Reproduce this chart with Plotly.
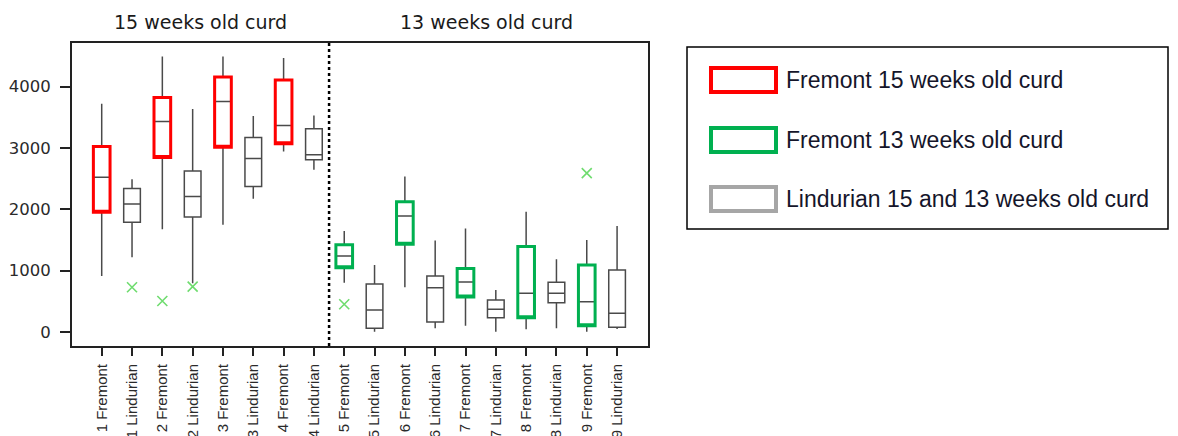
import plotly.graph_objects as go

# ---------------- data ----------------
labels = ["1 Fremont", "1 Lindurian", "2 Fremont", "2 Lindurian", "3 Fremont", "3 Lindurian",
          "4 Fremont", "4 Lindurian", "5 Fremont", "5 Lindurian", "6 Fremont", "6 Lindurian",
          "7 Fremont", "7 Lindurian", "8 Fremont", "8 Lindurian", "9 Fremont", "9 Lindurian"]
group = ["F15", "L", "F15", "L", "F15", "L", "F15", "L",
         "F13", "L", "F13", "L", "F13", "L", "F13", "L", "F13", "L"]
lower = [913, 1218, 1675, 794, 1746, 2170, 2941, 2643,
         804, 5, 729, 60, 103, 5, 43, 60, 5, 49]
q1 = [1952, 1789, 2844, 1876, 3013, 2370, 3067, 2806,
      1049, 60, 1431, 163, 571, 234, 234, 478, 103, 77]
median = [2523, 2088, 3431, 2207, 3757, 2827, 3366, 2887,
          1240, 359, 1892, 723, 816, 370, 631, 631, 495, 305]
q3 = [3023, 2338, 3822, 2626, 4155, 3170, 4105, 3312,
      1424, 783, 2121, 914, 1033, 522, 1392, 811, 1093, 1011]
upper = [3719, 2491, 4491, 3633, 4491, 3519, 4464, 3529,
         1648, 1093, 2534, 1490, 1686, 685, 1958, 1186, 1501, 1729]
outlier_label = ["1 Lindurian", "2 Fremont", "2 Lindurian", "5 Fremont", "9 Fremont"]
outlier_value = [729, 506, 739, 452, 2589]
y_ticks = [0, 1000, 2000, 3000, 4000]
group_titles = ["15 weeks old curd", "13 weeks old curd"]
legend_names = ["Fremont 15 weeks old curd", "Fremont 13 weeks old curd",
                "Lindurian 15 and 13 weeks old curd"]
colors = {"F15": "#ff0000", "F13": "#00b050", "L": "#a6a6a6"}

pos = list(range(len(labels)))
BOXW = 0.55

fig = go.Figure()

# base: thin dark boxes with whiskers + medians for every sample
fig.add_trace(go.Box(
    x=pos, q1=q1, median=median, q3=q3, lowerfence=lower, upperfence=upper,
    width=BOXW, whiskerwidth=0, boxpoints=False,
    line=dict(color="#4a4a4a", width=1.5), fillcolor="rgba(0,0,0,0)",
    showlegend=False, hoverinfo="skip"))

# coloured thick box outlines for Fremont samples
for g in ["F15", "F13"]:
    idx = [i for i, gg in enumerate(group) if gg == g]
    fig.add_trace(go.Box(
        x=[pos[i] for i in idx],
        q1=[q1[i] for i in idx], median=[q1[i] for i in idx], q3=[q3[i] for i in idx],
        lowerfence=[q1[i] for i in idx], upperfence=[q3[i] for i in idx],
        width=BOXW, whiskerwidth=0, boxpoints=False,
        line=dict(color=colors[g], width=3), fillcolor="rgba(0,0,0,0)",
        showlegend=False, hoverinfo="skip"))

# outliers
fig.add_trace(go.Scatter(
    x=[labels.index(l) for l in outlier_label], y=outlier_value, mode="markers",
    marker=dict(symbol="x-thin", size=10, line=dict(color="#6fdc6f", width=1.6)),
    showlegend=False, hoverinfo="skip"))

# ---------------- layout ----------------
OFF = 8                     # page body margin
W, H = 1178 - OFF, 436 - OFF
PL, PR, PT, PB = 72, 648, 43, 346   # plot area in page pixels
L, T = PL - OFF, PT - OFF
R, B = W - (PR - OFF), H - (PB - OFF)
pw, ph = PR - PL, PB - PT

def px(x):
    return (x - PL) / pw

def py(y):
    return (PB - y) / ph

n15 = group.index("F13")
fig.add_shape(type="line", xref="x", yref="paper", x0=n15 - 0.5, x1=n15 - 0.5, y0=0, y1=1,
              line=dict(color="black", width=2.5, dash="dot"))

for title, cx in zip(group_titles, [200, 486]):
    fig.add_annotation(text=title, xref="paper", yref="paper", x=px(cx), y=py(22),
                       xanchor="center", yanchor="middle", showarrow=False,
                       font=dict(family="DejaVu Sans", size=19, color="#1a1a1a"))

# legend box (drawn)
fig.add_shape(type="rect", xref="paper", yref="paper", x0=px(687), x1=px(1168), y0=py(47), y1=py(229),
              line=dict(color="black", width=1.5), fillcolor="white")
row_y = [80, 140, 199]
for name, g, ry in zip(legend_names, ["F15", "F13", "L"], row_y):
    fig.add_shape(type="rect", xref="paper", yref="paper", x0=px(711), x1=px(776),
                  y0=py(ry - 12), y1=py(ry + 12), line=dict(color=colors[g], width=4))
    fig.add_annotation(text=name, xref="paper", yref="paper", x=px(784), y=py(ry),
                       xanchor="left", yanchor="middle", showarrow=False,
                       font=dict(family="Liberation Sans", size=23, color="#15152a"))

fig.update_layout(
    width=W, height=H, margin=dict(l=L, r=R, t=T, b=B),
    plot_bgcolor="white", paper_bgcolor="white",
    boxmode="overlay", showlegend=False,
    xaxis=dict(range=[-0.98, 18.02], tickmode="array", tickvals=pos, ticktext=labels,
               tickangle=-90, ticks="outside", ticklen=8, tickwidth=2, tickcolor="#222",
               automargin=False, ticklabelstandoff=2,
               showgrid=False, zeroline=False, showline=True, linecolor="#222", linewidth=2,
               mirror=True, tickfont=dict(family="Liberation Sans", size=15, color="#2a2a2a")),
    yaxis=dict(range=[-228, 4710], tickmode="array", tickvals=y_ticks,
               ticks="outside", ticklen=10, tickwidth=2, tickcolor="#222",
               automargin=False, ticklabelstandoff=6,
               showgrid=False, zeroline=False, showline=True, linecolor="#222", linewidth=2,
               mirror=True, tickfont=dict(family="DejaVu Sans", size=16.5, color="#2a2a2a")),
)

fig.write_html("out.html")
